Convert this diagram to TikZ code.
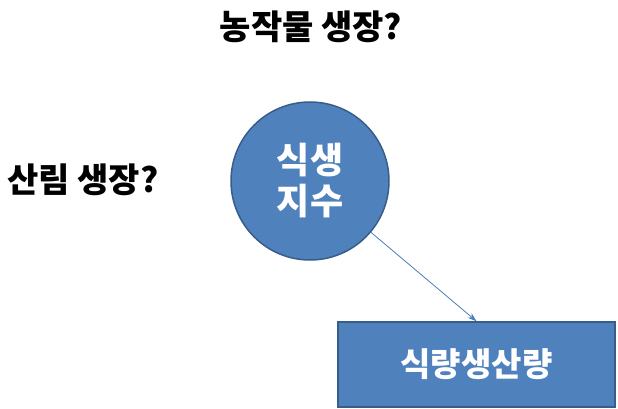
\documentclass[tikz,border=0pt]{standalone}
\usepackage{fontspec}
\newfontfamily\kr{Noto Sans CJK KR}
\usetikzlibrary{arrows.meta}
\definecolor{fillblue}{HTML}{4F81BD}
\definecolor{edgeblue}{HTML}{385D8A}
\definecolor{arrowblue}{HTML}{4A7EBB}
\begin{document}
\begin{tikzpicture}[x=1pt,y=-1pt,
  lbl/.style={font=\kr\bfseries\fontsize{34}{38}\selectfont, text=black, inner sep=0},
  shp/.style={fill=fillblue, draw=edgeblue, line width=1.5pt, text=white,
    font=\kr\bfseries, align=center}]
\useasboundingbox (0,0) rectangle (618,409);
\node[lbl] (crop) at (311,27) {농작물 생장?};
\node[lbl, anchor=west] (forest) at (7,180) {산림 생장?};
\node[shp, circle, minimum size=158pt, inner sep=0, font=\kr\bfseries\fontsize{36}{41}\selectfont] (veg) at (310,181) {식생\\지수};
\node[shp, rectangle, minimum width=277pt, minimum height=85pt, inner sep=0, font=\kr\bfseries\fontsize{33}{36}\selectfont] (food) at (476.5,364.5) {식량생산량};
\draw[arrowblue, line width=0.8pt, -{Stealth[length=9pt,width=6pt]}] (veg) -- (food.north);
\end{tikzpicture}
\end{document}
